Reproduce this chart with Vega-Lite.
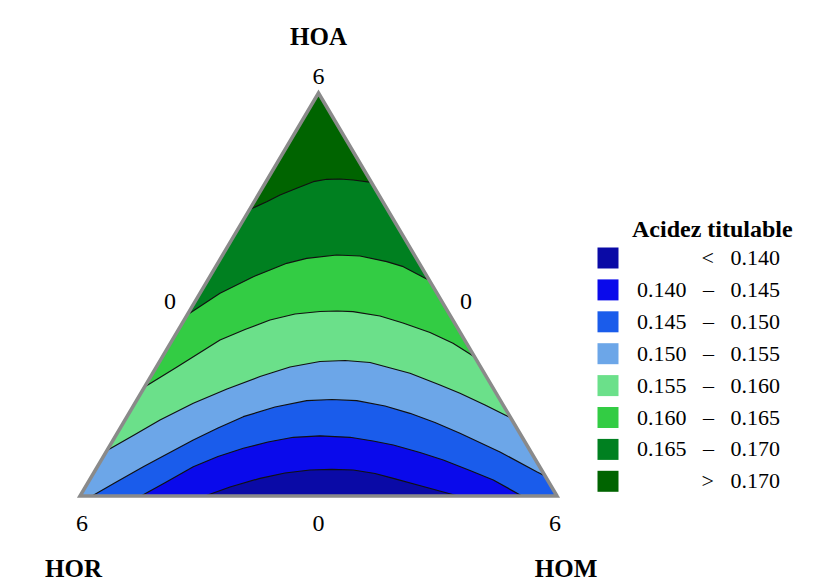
{
  "$schema": "https://vega.github.io/schema/vega-lite/v6.json",
  "width": 823,
  "height": 587,
  "padding": 0,
  "autosize": "none",
  "background": "white",
  "config": {"view": {"stroke": null}},
  "datasets": {
    "pts": [
      {"c":0,"band":"> 0.170","part":"corner","i":1,"x":0.5,"y":1},
      {"c":0,"band":"> 0.170","part":"corner","i":2,"x":1,"y":0},
      {"c":0,"band":"> 0.170","part":"corner","i":3,"x":0,"y":0},
      {"c":0,"band":"> 0.170","part":"corner","i":4,"x":0.5,"y":1},
      {"c":0,"band":"> 0.170","part":"corner","i":5,"x":1,"y":0},

      {"c":1,"band":"0.165 – 0.170","part":"curve","i":1,"x":0.3555,"y":0.7109},
      {"c":1,"band":"0.165 – 0.170","part":"curve","i":2,"x":0.3914,"y":0.7303},
      {"c":1,"band":"0.165 – 0.170","part":"curve","i":3,"x":0.4193,"y":0.7469},
      {"c":1,"band":"0.165 – 0.170","part":"curve","i":4,"x":0.4543,"y":0.7635},
      {"c":1,"band":"0.165 – 0.170","part":"curve","i":5,"x":0.4891,"y":0.7799},
      {"c":1,"band":"0.165 – 0.170","part":"curve","i":6,"x":0.5172,"y":0.7859},
      {"c":1,"band":"0.165 – 0.170","part":"curve","i":7,"x":0.5451,"y":0.7866},
      {"c":1,"band":"0.165 – 0.170","part":"curve","i":8,"x":0.5730,"y":0.7841},
      {"c":1,"band":"0.165 – 0.170","part":"curve","i":9,"x":0.6108,"y":0.7784},
      {"c":1,"band":"0.165 – 0.170","part":"corner","i":100,"x":1,"y":0},
      {"c":1,"band":"0.165 – 0.170","part":"corner","i":101,"x":0,"y":0},

      {"c":2,"band":"0.160 – 0.165","part":"curve","i":1,"x":0.2243,"y":0.4491},
      {"c":2,"band":"0.160 – 0.165","part":"curve","i":2,"x":0.2935,"y":0.5030},
      {"c":2,"band":"0.160 – 0.165","part":"curve","i":3,"x":0.3285,"y":0.5236},
      {"c":2,"band":"0.160 – 0.165","part":"curve","i":4,"x":0.3633,"y":0.5442},
      {"c":2,"band":"0.160 – 0.165","part":"curve","i":5,"x":0.3983,"y":0.5608},
      {"c":2,"band":"0.160 – 0.165","part":"curve","i":6,"x":0.4333,"y":0.5774},
      {"c":2,"band":"0.160 – 0.165","part":"curve","i":7,"x":0.4753,"y":0.5898},
      {"c":2,"band":"0.160 – 0.165","part":"curve","i":8,"x":0.5382,"y":0.5980},
      {"c":2,"band":"0.160 – 0.165","part":"curve","i":9,"x":0.5870,"y":0.5955},
      {"c":2,"band":"0.160 – 0.165","part":"curve","i":10,"x":0.6430,"y":0.5814},
      {"c":2,"band":"0.160 – 0.165","part":"curve","i":11,"x":0.6778,"y":0.5690},
      {"c":2,"band":"0.160 – 0.165","part":"curve","i":12,"x":0.7197,"y":0.5427},
      {"c":2,"band":"0.160 – 0.165","part":"curve","i":13,"x":0.7324,"y":0.5352},
      {"c":2,"band":"0.160 – 0.165","part":"corner","i":100,"x":1,"y":0},
      {"c":2,"band":"0.160 – 0.165","part":"corner","i":101,"x":0,"y":0},

      {"c":3,"band":"0.155 – 0.160","part":"curve","i":1,"x":0.1352,"y":0.2705},
      {"c":3,"band":"0.155 – 0.160","part":"curve","i":2,"x":0.2034,"y":0.3201},
      {"c":3,"band":"0.155 – 0.160","part":"curve","i":3,"x":0.2935,"y":0.3871},
      {"c":3,"band":"0.155 – 0.160","part":"curve","i":4,"x":0.3459,"y":0.4132},
      {"c":3,"band":"0.155 – 0.160","part":"curve","i":5,"x":0.3983,"y":0.4367},
      {"c":3,"band":"0.155 – 0.160","part":"curve","i":6,"x":0.4507,"y":0.4516},
      {"c":3,"band":"0.155 – 0.160","part":"curve","i":7,"x":0.5031,"y":0.4578},
      {"c":3,"band":"0.155 – 0.160","part":"curve","i":8,"x":0.5388,"y":0.4591},
      {"c":3,"band":"0.155 – 0.160","part":"curve","i":9,"x":0.5723,"y":0.4573},
      {"c":3,"band":"0.155 – 0.160","part":"curve","i":10,"x":0.6289,"y":0.4467},
      {"c":3,"band":"0.155 – 0.160","part":"curve","i":11,"x":0.6771,"y":0.4293},
      {"c":3,"band":"0.155 – 0.160","part":"curve","i":12,"x":0.7338,"y":0.4057},
      {"c":3,"band":"0.155 – 0.160","part":"curve","i":13,"x":0.7820,"y":0.3789},
      {"c":3,"band":"0.155 – 0.160","part":"curve","i":14,"x":0.8268,"y":0.3457},
      {"c":3,"band":"0.155 – 0.160","part":"corner","i":100,"x":1,"y":0},
      {"c":3,"band":"0.155 – 0.160","part":"corner","i":101,"x":0,"y":0},

      {"c":4,"band":"0.150 – 0.155","part":"curve","i":1,"x":0.0565,"y":0.1129},
      {"c":4,"band":"0.150 – 0.155","part":"curve","i":2,"x":0.1153,"y":0.1524},
      {"c":4,"band":"0.150 – 0.155","part":"curve","i":3,"x":0.1677,"y":0.1886},
      {"c":4,"band":"0.150 – 0.155","part":"curve","i":4,"x":0.2375,"y":0.2300},
      {"c":4,"band":"0.150 – 0.155","part":"curve","i":5,"x":0.3082,"y":0.2655},
      {"c":4,"band":"0.150 – 0.155","part":"curve","i":6,"x":0.3774,"y":0.2965},
      {"c":4,"band":"0.150 – 0.155","part":"curve","i":7,"x":0.4403,"y":0.3201},
      {"c":4,"band":"0.150 – 0.155","part":"curve","i":8,"x":0.5031,"y":0.3337},
      {"c":4,"band":"0.150 – 0.155","part":"curve","i":9,"x":0.5556,"y":0.3362},
      {"c":4,"band":"0.150 – 0.155","part":"curve","i":10,"x":0.6080,"y":0.3313},
      {"c":4,"band":"0.150 – 0.155","part":"curve","i":11,"x":0.6918,"y":0.3045},
      {"c":4,"band":"0.150 – 0.155","part":"curve","i":12,"x":0.7547,"y":0.2754},
      {"c":4,"band":"0.150 – 0.155","part":"curve","i":13,"x":0.7966,"y":0.2548},
      {"c":4,"band":"0.150 – 0.155","part":"curve","i":14,"x":0.8491,"y":0.2258},
      {"c":4,"band":"0.150 – 0.155","part":"curve","i":15,"x":0.8910,"y":0.2010},
      {"c":4,"band":"0.150 – 0.155","part":"curve","i":16,"x":0.9029,"y":0.1943},
      {"c":4,"band":"0.150 – 0.155","part":"corner","i":100,"x":1,"y":0},
      {"c":4,"band":"0.150 – 0.155","part":"corner","i":101,"x":0,"y":0},

      {"c":5,"band":"0.145 – 0.150","part":"curve","i":1,"x":0.0252,"y":0},
      {"c":5,"band":"0.145 – 0.150","part":"curve","i":2,"x":0.0734,"y":0.0330},
      {"c":5,"band":"0.145 – 0.150","part":"curve","i":3,"x":0.1327,"y":0.0727},
      {"c":5,"band":"0.145 – 0.150","part":"curve","i":4,"x":0.1845,"y":0.1055},
      {"c":5,"band":"0.145 – 0.150","part":"curve","i":5,"x":0.2375,"y":0.1390},
      {"c":5,"band":"0.145 – 0.150","part":"curve","i":6,"x":0.2893,"y":0.1687},
      {"c":5,"band":"0.145 – 0.150","part":"curve","i":7,"x":0.3424,"y":0.1968},
      {"c":5,"band":"0.145 – 0.150","part":"curve","i":8,"x":0.4088,"y":0.2208},
      {"c":5,"band":"0.145 – 0.150","part":"curve","i":9,"x":0.4753,"y":0.2365},
      {"c":5,"band":"0.145 – 0.150","part":"curve","i":10,"x":0.5283,"y":0.2395},
      {"c":5,"band":"0.145 – 0.150","part":"curve","i":11,"x":0.5801,"y":0.2365},
      {"c":5,"band":"0.145 – 0.150","part":"curve","i":12,"x":0.6394,"y":0.2233},
      {"c":5,"band":"0.145 – 0.150","part":"curve","i":13,"x":0.6918,"y":0.2052},
      {"c":5,"band":"0.145 – 0.150","part":"curve","i":14,"x":0.7442,"y":0.1824},
      {"c":5,"band":"0.145 – 0.150","part":"curve","i":15,"x":0.7966,"y":0.1556},
      {"c":5,"band":"0.145 – 0.150","part":"curve","i":16,"x":0.8805,"y":0.1092},
      {"c":5,"band":"0.145 – 0.150","part":"curve","i":17,"x":0.9574,"y":0.0603},
      {"c":5,"band":"0.145 – 0.150","part":"curve","i":18,"x":0.9752,"y":0.0496},
      {"c":5,"band":"0.145 – 0.150","part":"corner","i":100,"x":1,"y":0},

      {"c":6,"band":"0.140 – 0.145","part":"curve","i":1,"x":0.1279,"y":0},
      {"c":6,"band":"0.140 – 0.145","part":"curve","i":2,"x":0.1782,"y":0.0330},
      {"c":6,"band":"0.140 – 0.145","part":"curve","i":3,"x":0.2375,"y":0.0727},
      {"c":6,"band":"0.140 – 0.145","part":"curve","i":4,"x":0.2893,"y":0.0980},
      {"c":6,"band":"0.140 – 0.145","part":"curve","i":5,"x":0.3424,"y":0.1184},
      {"c":6,"band":"0.140 – 0.145","part":"curve","i":6,"x":0.3941,"y":0.1340},
      {"c":6,"band":"0.140 – 0.145","part":"curve","i":7,"x":0.4472,"y":0.1457},
      {"c":6,"band":"0.140 – 0.145","part":"curve","i":8,"x":0.5031,"y":0.1494},
      {"c":6,"band":"0.140 – 0.145","part":"curve","i":9,"x":0.5660,"y":0.1457},
      {"c":6,"band":"0.140 – 0.145","part":"curve","i":10,"x":0.6143,"y":0.1365},
      {"c":6,"band":"0.140 – 0.145","part":"curve","i":11,"x":0.6568,"y":0.1266},
      {"c":6,"band":"0.140 – 0.145","part":"curve","i":12,"x":0.7128,"y":0.1079},
      {"c":6,"band":"0.140 – 0.145","part":"curve","i":13,"x":0.7616,"y":0.0893},
      {"c":6,"band":"0.140 – 0.145","part":"curve","i":14,"x":0.8176,"y":0.0633},
      {"c":6,"band":"0.140 – 0.145","part":"curve","i":15,"x":0.8665,"y":0.0397},
      {"c":6,"band":"0.140 – 0.145","part":"curve","i":16,"x":0.9266,"y":0},

      {"c":7,"band":"< 0.140","part":"curve","i":1,"x":0.2621,"y":0},
      {"c":7,"band":"< 0.140","part":"curve","i":2,"x":0.3145,"y":0.0223},
      {"c":7,"band":"< 0.140","part":"curve","i":3,"x":0.3774,"y":0.0439},
      {"c":7,"band":"< 0.140","part":"curve","i":4,"x":0.4298,"y":0.0571},
      {"c":7,"band":"< 0.140","part":"curve","i":5,"x":0.4822,"y":0.0645},
      {"c":7,"band":"< 0.140","part":"curve","i":6,"x":0.5283,"y":0.0663},
      {"c":7,"band":"< 0.140","part":"curve","i":7,"x":0.5730,"y":0.0645},
      {"c":7,"band":"< 0.140","part":"curve","i":8,"x":0.6184,"y":0.0558},
      {"c":7,"band":"< 0.140","part":"curve","i":9,"x":0.6568,"y":0.0439},
      {"c":7,"band":"< 0.140","part":"curve","i":10,"x":0.7233,"y":0.0223},
      {"c":7,"band":"< 0.140","part":"curve","i":11,"x":0.7925,"y":0}
    ],
    "labels": [
      {"name":"HOA","kind":"axis","x":0.5,"y":1.1191},
      {"name":"HOR","kind":"axis","x":-0.0136,"y":-0.2010},
      {"name":"HOM","kind":"axis","x":1.0189,"y":-0.2010},
      {"name":"6","kind":"tick","x":0.5,"y":1.0223},
      {"name":"0","kind":"tick","x":0.1887,"y":0.4640},
      {"name":"0","kind":"tick","x":0.8092,"y":0.4640},
      {"name":"6","kind":"tick","x":0.0042,"y":-0.0868},
      {"name":"0","kind":"tick","x":0.5,"y":-0.0868},
      {"name":"6","kind":"tick","x":0.9958,"y":-0.0868}
    ]
  },
  "data": {"name": "pts"},
  "encoding": {
    "x": {"field": "x", "type": "quantitative", "axis": null,
          "scale": {"domain": [-0.16771, 1.55765], "nice": false, "zero": false}},
    "y": {"field": "y", "type": "quantitative", "axis": null,
          "scale": {"domain": [-0.22581, 1.23077], "nice": false, "zero": false}},
    "order": {"field": "i", "type": "quantitative"},
    "color": {
      "field": "band", "type": "nominal",
      "scale": {
        "domain": ["< 0.140", "0.140 – 0.145", "0.145 – 0.150", "0.150 – 0.155", "0.155 – 0.160", "0.160 – 0.165", "0.165 – 0.170", "> 0.170"],
        "range": ["#0a0aa6", "#0a0aeb", "#1a5ceb", "#6ca6e8", "#6be08a", "#33cc44", "#008020", "#006400"]
      },
      "legend": {
        "title": "Acidez titulable",
        "orient": "none", "legendX": 597, "legendY": 218, "padding": 0,
        "titleFont": "Liberation Serif", "titleFontSize": 24, "titleFontWeight": "bold", "titleColor": "black", "titlePadding": 5,
        "labelFont": "Liberation Serif", "labelFontSize": 22, "labelColor": "black",
        "labelAlign": "right", "labelOffset": 161, "labelLimit": 400,
        "labelExpr": "replace(replace(datum.label, ' ', '\u00a0\u00a0\u00a0'), ' ', '\u00a0\u00a0\u00a0')",
        "symbolType": "square", "symbolSize": 441, "symbolStrokeWidth": 0, "symbolOpacity": 1,
        "rowPadding": 9.9,
        "encode": {
          "symbols": {"update": {"fill": {"scale": "color", "field": "value"}, "stroke": {"value": "transparent"}, "opacity": {"value": 1}}},
          "title": {"update": {"dx": {"value": 35}}}
        }
      }
    }
  },
  "layer": [
    {"transform": [{"filter": "datum.c == 0"}], "mark": {"type": "line", "filled": true, "strokeWidth": 0}},
    {"transform": [{"filter": "datum.c == 1"}], "mark": {"type": "line", "filled": true, "strokeWidth": 0}},
    {"transform": [{"filter": "datum.c == 2"}], "mark": {"type": "line", "filled": true, "strokeWidth": 0}},
    {"transform": [{"filter": "datum.c == 3"}], "mark": {"type": "line", "filled": true, "strokeWidth": 0}},
    {"transform": [{"filter": "datum.c == 4"}], "mark": {"type": "line", "filled": true, "strokeWidth": 0}},
    {"transform": [{"filter": "datum.c == 5"}], "mark": {"type": "line", "filled": true, "strokeWidth": 0}},
    {"transform": [{"filter": "datum.c == 6"}], "mark": {"type": "line", "filled": true, "strokeWidth": 0}},
    {"transform": [{"filter": "datum.c == 7"}], "mark": {"type": "line", "filled": true, "strokeWidth": 0}},
    {
      "transform": [{"filter": "datum.c > 0 && datum.part == 'curve'"}],
      "mark": {"type": "line", "strokeWidth": 1.2, "strokeJoin": "round"},
      "encoding": {"color": {"value": "#111111"}, "detail": {"field": "c", "type": "nominal"}}
    },
    {
      "transform": [{"filter": "datum.c == 0"}],
      "mark": {"type": "line", "strokeWidth": 3.5, "strokeJoin": "miter"},
      "encoding": {"color": {"value": "#8a8a8a"}}
    },
    {
      "data": {"name": "labels"},
      "transform": [{"filter": "datum.kind == 'axis'"}],
      "mark": {"type": "text", "font": "Liberation Serif", "fontSize": 25, "fontWeight": "bold", "align": "center", "baseline": "alphabetic"},
      "encoding": {"text": {"field": "name"}, "color": {"value": "black"}, "order": null}
    },
    {
      "data": {"name": "labels"},
      "transform": [{"filter": "datum.kind == 'tick'"}],
      "mark": {"type": "text", "font": "Liberation Serif", "fontSize": 24, "align": "center", "baseline": "alphabetic"},
      "encoding": {"text": {"field": "name"}, "color": {"value": "black"}, "order": null}
    }
  ]
}
